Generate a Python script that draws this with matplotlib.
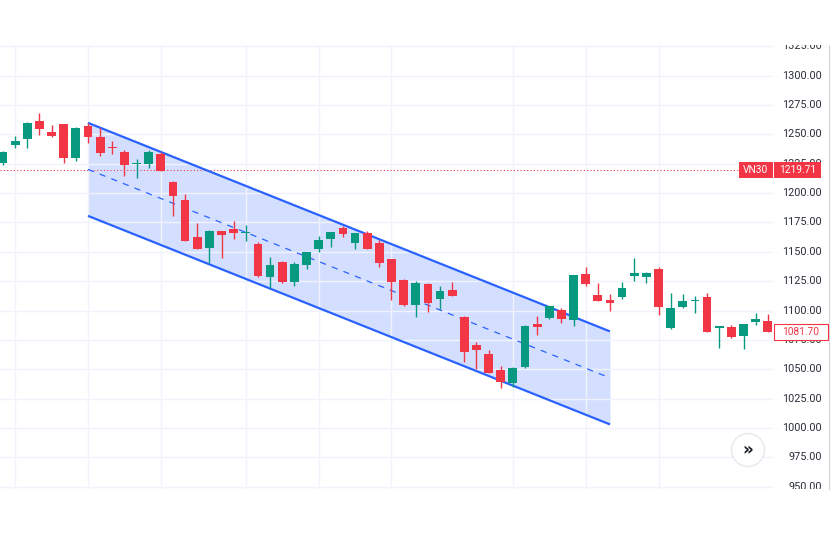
import matplotlib.pyplot as plt
import matplotlib.transforms as mtransforms
from matplotlib.patches import Rectangle

# OHLC data for VN30 (daily candles)
opens = [1225.4, 1240.9, 1246.3, 1261.1, 1252.0, 1258.6, 1230.1, 1257.4, 1247.8, 1239.5,
         1235.0, 1224.8, 1224.5, 1233.5, 1209.7, 1194.1, 1162.6, 1153.5, 1167.5, 1169.4,
         1166.0, 1156.9, 1128.6, 1141.1, 1124.3, 1138.8, 1152.7, 1161.2, 1170.3, 1157.5,
         1165.8, 1157.3, 1143.6, 1126.3, 1104.5, 1122.6, 1109.8, 1117.7, 1094.8, 1070.7,
         1063.0, 1049.6, 1038.3, 1051.7, 1088.5, 1093.4, 1100.5, 1091.9, 1130.9, 1113.2,
         1108.7, 1111.5, 1129.7, 1128.6, 1135.4, 1084.9, 1103.0, 1108.4, 1111.5, 1084.9,
         1086.0, 1078.3, 1090.0, 1091.4]
closes = [1234.7, 1244.4, 1260.0, 1254.8, 1248.9, 1230.1, 1255.7, 1247.8, 1233.9, 1238.6,
          1223.7, 1225.6, 1234.7, 1218.8, 1197.5, 1159.5, 1152.8, 1168.0, 1164.1, 1165.8,
          1166.9, 1129.2, 1138.5, 1124.0, 1139.6, 1149.6, 1160.1, 1166.6, 1164.9, 1165.8,
          1152.4, 1140.7, 1124.6, 1104.5, 1123.5, 1106.2, 1116.6, 1112.6, 1064.4, 1066.7,
          1046.8, 1039.2, 1051.3, 1087.1, 1085.7, 1103.9, 1092.5, 1130.0, 1122.4, 1108.1,
          1106.2, 1118.9, 1131.7, 1132.2, 1103.0, 1102.4, 1108.1, 1109.2, 1082.0, 1086.6,
          1077.7, 1088.3, 1092.8, 1081.7]
highs = [1235.8, 1248.6, 1260.5, 1267.9, 1258.0, 1259.0, 1256.0, 1259.9, 1255.7, 1244.6,
         1236.4, 1229.0, 1236.7, 1235.2, 1210.0, 1199.0, 1174.3, 1168.3, 1168.0, 1176.5,
         1173.1, 1158.4, 1145.3, 1142.2, 1141.3, 1150.0, 1163.5, 1167.0, 1172.2, 1166.0,
         1168.0, 1160.1, 1144.0, 1127.0, 1125.2, 1123.0, 1120.6, 1124.3, 1095.0, 1073.5,
         1066.4, 1052.8, 1051.6, 1087.5, 1095.6, 1104.2, 1102.2, 1130.5, 1136.8, 1123.2,
         1113.8, 1124.3, 1144.5, 1132.5, 1136.8, 1114.7, 1113.8, 1112.6, 1114.7, 1087.0,
         1087.4, 1088.6, 1097.7, 1096.8]
lows = [1223.9, 1238.4, 1238.6, 1249.5, 1248.0, 1225.4, 1227.6, 1242.4, 1231.8, 1233.0,
        1214.8, 1212.6, 1221.6, 1218.5, 1180.5, 1159.0, 1152.5, 1140.7, 1145.0, 1160.7,
        1159.5, 1128.8, 1119.4, 1123.5, 1120.9, 1135.6, 1149.6, 1154.4, 1162.4, 1152.7,
        1152.0, 1136.8, 1109.0, 1104.0, 1094.8, 1099.0, 1101.3, 1112.0, 1056.4, 1050.2,
        1046.5, 1034.3, 1034.6, 1051.0, 1078.9, 1093.0, 1089.1, 1086.8, 1121.1, 1107.8,
        1099.4, 1109.6, 1125.4, 1123.7, 1096.2, 1084.5, 1102.4, 1098.2, 1081.7, 1068.4,
        1076.4, 1067.3, 1088.0, 1081.5]

# descending channel drawing (candle index -> price)
channel_x = [7, 50]
channel_upper = [1259.8, 1082.2]
channel_lower = [1180.6, 1003.0]

# vertical grid positions (candle index) and price ticks
grid_idx = [1, 7, 13, 20, 26, 32, 42, 48, 54]
price_ticks = list(range(950, 1326, 25))

symbol = 'VN30'
ref_price = 1219.71
last_price = 1081.70

UP = '#089981'
DOWN = '#f23645'
BLUE = '#2962ff'

W, H = 831, 534
fig = plt.figure(figsize=(W / 100, H / 100), dpi=100)
fig.patch.set_facecolor('white')

top_px, bot_px, right_px = 45, 489, 773
ax = fig.add_axes([0, 1 - bot_px / H, right_px / W, (bot_px - top_px) / H])
ylim = (948.0, 1326.1)
ax.set_xlim(-0.25, 63.43)
ax.set_ylim(*ylim)

# grid
ax.set_xticks(grid_idx)
ax.set_yticks(price_ticks)
ax.grid(True, color='#f0f3fa', linewidth=1)
ax.tick_params(length=0, labelbottom=False, labelleft=False)
for s in ax.spines.values():
    s.set_visible(False)

# channel
ch_mid = [(u + l) / 2 for u, l in zip(channel_upper, channel_lower)]
ax.fill_between(channel_x, channel_lower, channel_upper, color=BLUE, alpha=0.2,
                linewidth=0, zorder=1)
ax.plot(channel_x, channel_upper, color=BLUE, lw=1.6, zorder=4, solid_capstyle='butt')
ax.plot(channel_x, channel_lower, color=BLUE, lw=1.6, zorder=4, solid_capstyle='butt')
ax.plot(channel_x, ch_mid, color=BLUE, lw=0.9, ls=(0, (5, 5)), zorder=4)

# candles
idx = list(range(len(opens)))
colors = [UP if c >= o else DOWN for o, c in zip(opens, closes)]
bottoms = [min(o, c) for o, c in zip(opens, closes)]
heights = [max(abs(c - o), 0.9) for o, c in zip(opens, closes)]
ax.vlines(idx, lows, highs, colors=colors, linewidth=1, zorder=5)
ax.bar(idx, heights, bottom=bottoms, width=0.72, color=colors, linewidth=0, zorder=6)

# reference price dotted line
ax.axhline(ref_price, xmin=0, xmax=739 / right_px, color=DOWN, lw=0.8,
           ls=(0, (1, 2)), zorder=3)

# price scale on the right
sax = fig.add_axes([right_px / W, 1 - bot_px / H, (829 - right_px) / W, (bot_px - top_px) / H])
sax.set_ylim(*ylim)
sax.set_xlim(0, 1)
sax.set_xticks([])
sax.set_yticks([])
for k, s in sax.spines.items():
    s.set_visible(k == 'right')
sax.spines['right'].set_color('#d1d4dc')
sax.patch.set_alpha(0)
for v in price_ticks:
    sax.text(0.875, v, f'{v:.2f}', ha='right', va='center', fontsize=7.8,
             family='Roboto', color='#2a2e39', clip_on=True)

tr = mtransforms.blended_transform_factory(sax.transAxes, sax.transData)
tag_h = 13.6
sax.add_patch(Rectangle((-0.607, ref_price - tag_h / 2), 0.6, tag_h, transform=tr,
                        facecolor=DOWN, edgecolor='none', clip_on=False, zorder=10))
sax.add_patch(Rectangle((0.018, ref_price - tag_h / 2), 0.84, tag_h, transform=tr,
                        facecolor=DOWN, edgecolor='none', clip_on=False, zorder=10))
sax.text(-0.307, ref_price, symbol, transform=tr, ha='center', va='center',
         fontsize=7.3, family='Roboto', color='white', zorder=11, clip_on=False)
sax.text(0.438, ref_price, f'{ref_price:.2f}', transform=tr, ha='center', va='center',
         fontsize=7.3, family='Roboto', color='white', zorder=11, clip_on=False)

last_h = 12.8
sax.add_patch(Rectangle((0.018, last_price - last_h / 2), 0.96, last_h, transform=tr,
                        facecolor='white', edgecolor=DOWN, linewidth=0.8,
                        clip_on=False, zorder=10))
sax.text(0.5, last_price, f'{last_price:.2f}', transform=tr, ha='center', va='center',
         fontsize=7.3, family='Roboto', color=DOWN, zorder=11, clip_on=False)

# scroll-to-latest button
fig.text(748 / W, 1 - 450 / H, '»', ha='center', va='center', fontsize=12,
         fontweight='bold', color='#131722',
         bbox=dict(boxstyle='circle,pad=0.45', fc='white', ec='#e6e8ee', lw=1))

fig.savefig('out.png', dpi=100, facecolor='white')
